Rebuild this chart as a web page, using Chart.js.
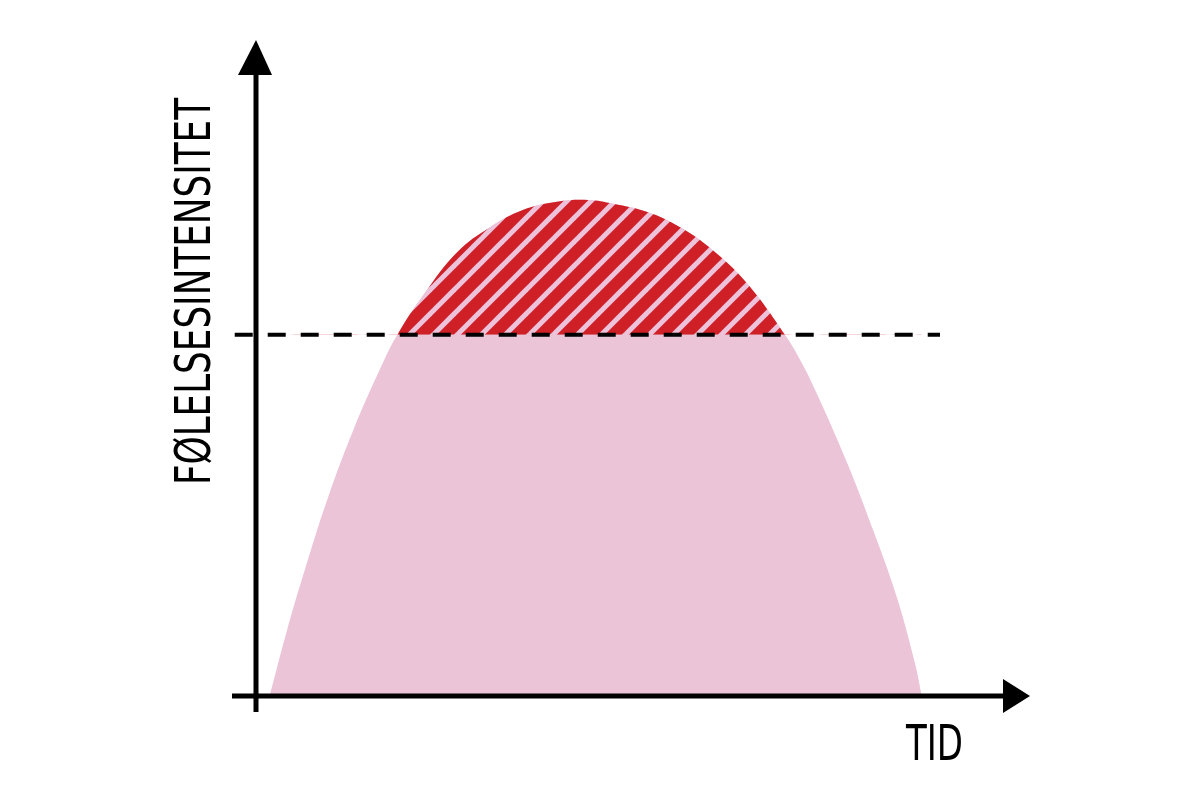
<!DOCTYPE html>
<html>
<head>
<meta charset="utf-8">
<script src="https://cdn.jsdelivr.net/npm/chart.js@4.4.1/dist/chart.umd.min.js"></script>
<style>
  html, body { margin: 0; padding: 0; background: #fff; }
  #wrap { width: 1200px; height: 800px; }
</style>
</head>
<body>
<div id="wrap"><canvas id="myChart"></canvas></div>
<script>
// tid (x) og følelsesintensitet (y), lest av bildet
const timeValues = [1.8, 4.1, 6.7, 9.5, 12.8, 16.7, 18.6, 22.0, 26.5, 30.8, 35.1, 39.6, 43.7,
                    47.0, 51.5, 55.8, 60.1, 64.6, 69.6, 71.8, 74.0, 77.8, 81.2, 84.3, 86.7, 87.6];
const intensityValues = [0, 10.4, 20.9, 31.3, 41.8, 52.4, 56.8, 63.0, 69.8, 73.7, 76.4, 77.7, 78.0,
                         77.4, 76.1, 73.7, 70.1, 64.9, 56.8, 52.4, 47.0, 36.6, 26.1, 15.6, 5.2, 0];
const thresholdValue = 56.8;
const thresholdRange = [-2.8, 90];
const axisLabels = { x: 'TID', y: 'FØLELSESINTENSITET' };

const RED = '#cf2027';
const PINK = '#ebc4d8';

const curve = timeValues.map((t, i) => ({ x: t, y: intensityValues[i] }));
const threshold = thresholdRange.map(t => ({ x: t, y: thresholdValue }));

// skravert mønster for området over terskelen
function makeHatch() {
    const p = 24;
    const c = document.createElement('canvas');
    c.width = p; c.height = p;
    const g = c.getContext('2d');
    g.fillStyle = RED;
    g.fillRect(0, 0, p, p);
    g.strokeStyle = '#ecc3da';
    g.lineWidth = 5;
    g.lineCap = 'square';
    for (let k = -1; k <= 1; k++) {
        g.beginPath();
        g.moveTo(k * p, p);
        g.lineTo(k * p + p, 0);
        g.stroke();
    }
    return g.createPattern(c, 'repeat');
}

const axesPlugin = {
    id: 'handAxes',
    afterDraw(chart) {
        const ctx = chart.ctx;
        const { top, right } = chart.chartArea;
        const x0 = chart.scales.x.getPixelForValue(0);
        const y0 = chart.scales.y.getPixelForValue(0);
        ctx.save();
        ctx.strokeStyle = '#000';
        ctx.fillStyle = '#000';
        ctx.lineWidth = 5;
        // y-akse
        ctx.beginPath();
        ctx.moveTo(x0, y0 + 16);
        ctx.lineTo(x0, top + 15);
        ctx.stroke();
        ctx.beginPath();
        ctx.moveTo(x0, top - 20);
        ctx.lineTo(x0 - 18, top + 15);
        ctx.lineTo(x0 + 16, top + 15);
        ctx.closePath();
        ctx.fill();
        // x-akse
        ctx.beginPath();
        ctx.moveTo(x0 - 24, y0);
        ctx.lineTo(right - 13, y0);
        ctx.stroke();
        ctx.beginPath();
        ctx.moveTo(right + 14, y0);
        ctx.lineTo(right - 13, y0 - 17);
        ctx.lineTo(right - 13, y0 + 17);
        ctx.closePath();
        ctx.fill();

        // aksetitler
        ctx.font = '49px "Liberation Sans Narrow", "DejaVu Sans Condensed", sans-serif';
        ctx.textBaseline = 'alphabetic';
        ctx.textAlign = 'left';
        let w = ctx.measureText(axisLabels.y).width;
        ctx.save();
        ctx.translate(x0 - 46, 485);
        ctx.rotate(-Math.PI / 2);
        ctx.scale(387 / w, 1);
        ctx.fillText(axisLabels.y, 0, 0);
        ctx.restore();

        w = ctx.measureText(axisLabels.x).width;
        ctx.save();
        ctx.translate(906, 760);
        ctx.scale(57 / w, 1);
        ctx.fillText(axisLabels.x, 0, 0);
        ctx.restore();
        ctx.restore();
    }
};

const config = {
    type: 'line',
    data: {
        datasets: [
            {
                label: 'terskel',
                data: threshold,
                borderColor: '#000',
                borderWidth: 4,
                borderDash: [18, 15],
                pointRadius: 0,
                fill: false,
                clip: false,
                order: 1
            },
            {
                label: 'over terskel',
                data: curve,
                borderWidth: 0,
                pointRadius: 0,
                tension: 0.4,
                fill: { target: { value: thresholdValue }, above: makeHatch(), below: 'rgba(0,0,0,0)' },
                order: 2
            },
            {
                label: 'følelse',
                data: curve,
                borderWidth: 0,
                pointRadius: 0,
                tension: 0.4,
                backgroundColor: PINK,
                fill: 'origin',
                order: 3
            }
        ]
    },
    options: {
        responsive: true,
        maintainAspectRatio: false,
        animation: false,
        layout: { padding: { left: 256, right: 184, top: 60, bottom: 104 } },
        scales: {
            x: { type: 'linear', min: 0, max: 100, display: false },
            y: { min: 0, max: 100, display: false }
        },
        plugins: {
            legend: { display: false },
            tooltip: { enabled: false }
        }
    },
    plugins: [axesPlugin]
};

const ctx = document.getElementById('myChart').getContext('2d');
window.myChart = new Chart(ctx, config);
</script>
</body>
</html>
